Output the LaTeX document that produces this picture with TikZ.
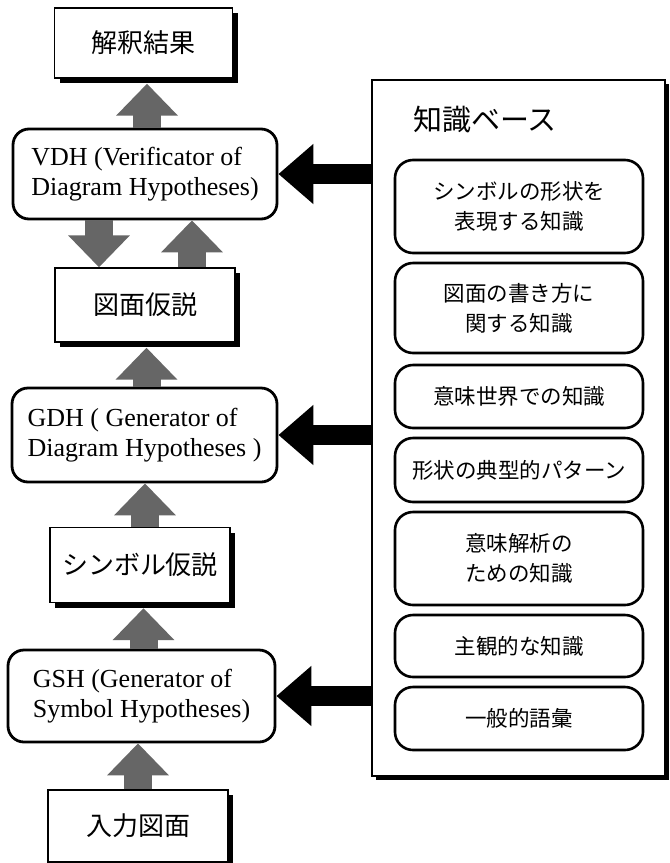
\documentclass[tikz,border=0pt]{standalone}
\usepackage{fontspec}
\setmainfont{Liberation Serif}
\newfontfamily\jp{Noto Sans CJK JP}
\usetikzlibrary{arrows.meta,shadows}
\begin{document}
\begin{tikzpicture}[x=1pt,y=-1pt,
  sbox/.style={draw, line width=1.4pt, fill=white, inner sep=0pt,
    font=\jp\fontsize{26}{30}\selectfont,
    general shadow={shadow xshift=5pt, shadow yshift=-5pt, fill=black, opacity=1}},
  rbox/.style={draw, line width=2.8pt, fill=white, rounded corners=16pt, inner sep=0pt,
    align=left, font=\fontsize{26}{30}\selectfont},
  kbbox/.style={draw, line width=1.4pt, fill=white, inner sep=0pt,
    general shadow={shadow xshift=4pt, shadow yshift=-4pt, fill=black, opacity=1}},
  kbi/.style={draw, line width=2.6pt, rounded corners=18pt, inner sep=0pt,
    minimum width=248pt, align=center, font=\jp\fontsize{21.5}{30}\selectfont},
  garr/.style={draw=black!60, line width=28pt, -{Triangle[width=60pt,length=32pt]}},
  barr/.style={draw=black, line width=20pt, -{Triangle[width=58pt,length=35pt]}}
]
\useasboundingbox (0,0) rectangle (670,863);
\fill[white] (0,0) rectangle (670,863);

% knowledge base
\node[kbbox, minimum width=293pt, minimum height=696pt] (kb) at (518.5,428) {};
\node[anchor=west, inner sep=0pt, font=\jp\fontsize{29}{32}\selectfont] (kbt) at (413,120) {知識ベース};
\node[kbi, minimum height=93pt] (k1) at (519,206.5) {シンボルの形状を\\表現する知識};
\node[kbi, minimum height=90pt] (k2) at (519,308) {図面の書き方に\\関する知識};
\node[kbi, minimum height=63pt] (k3) at (519,396.5) {意味世界での知識};
\node[kbi, minimum height=64pt] (k4) at (519,470) {形状の典型的パターン};
\node[kbi, minimum height=93pt] (k5) at (519,558.5) {意味解析の\\ための知識};
\node[kbi, minimum height=62pt] (k6) at (519,646) {主観的な知識};
\node[kbi, minimum height=63pt] (k7) at (519,718.5) {一般的語彙};

% left column
\node[sbox, minimum width=178pt, minimum height=70pt] (res) at (143.5,43) {解釈結果};
\node[rbox, minimum width=264pt, minimum height=90pt] (vdh) at (145,174) {VDH (Verificator of\\Diagram Hypotheses)};
\node[sbox, minimum width=180pt, minimum height=74pt] (zu) at (145,305) {図面仮説};
\node[rbox, minimum width=265pt, minimum height=94pt] (gdh) at (144.5,435) {GDH ( Generator of\\Diagram Hypotheses )};
\node[sbox, minimum width=180pt, minimum height=75pt] (sym) at (140,565) {シンボル仮説};
\node[rbox, minimum width=267pt, minimum height=92pt] (gsh) at (141.5,696) {GSH (Generator of\\Symbol Hypotheses)};
\node[sbox, minimum width=180pt, minimum height=72pt] (inp) at (138,826) {入力図面};

% gray arrows
\draw[garr] ([xshift=2pt]vdh.north) -- ([xshift=2pt,yshift=-5pt]vdh.north |- res.south);
\draw[garr] ([xshift=-46pt]vdh.south) -- ([xshift=-46pt]vdh.south |- zu.north);
\draw[garr] ([xshift=47pt]zu.north) -- ([xshift=47pt]zu.north |- vdh.south);
\draw[garr] ([xshift=2pt]gdh.north) -- ([xshift=2pt,yshift=-5pt]gdh.north |- zu.south);
\draw[garr] ([xshift=5pt]sym.north) -- ([xshift=5pt]sym.north |- gdh.south);
\draw[garr] ([xshift=2pt]gsh.north) -- ([xshift=2pt,yshift=-5pt]gsh.north |- sym.south);
\draw[garr] (inp.north) -- (inp.north |- gsh.south);

% black arrows
\draw[barr] (kb.west |- vdh.east) -- (vdh.east);
\draw[barr] (kb.west |- gdh.east) -- (gdh.east);
\draw[barr] (kb.west |- gsh.east) -- (gsh.east);
\end{tikzpicture}
\end{document}
